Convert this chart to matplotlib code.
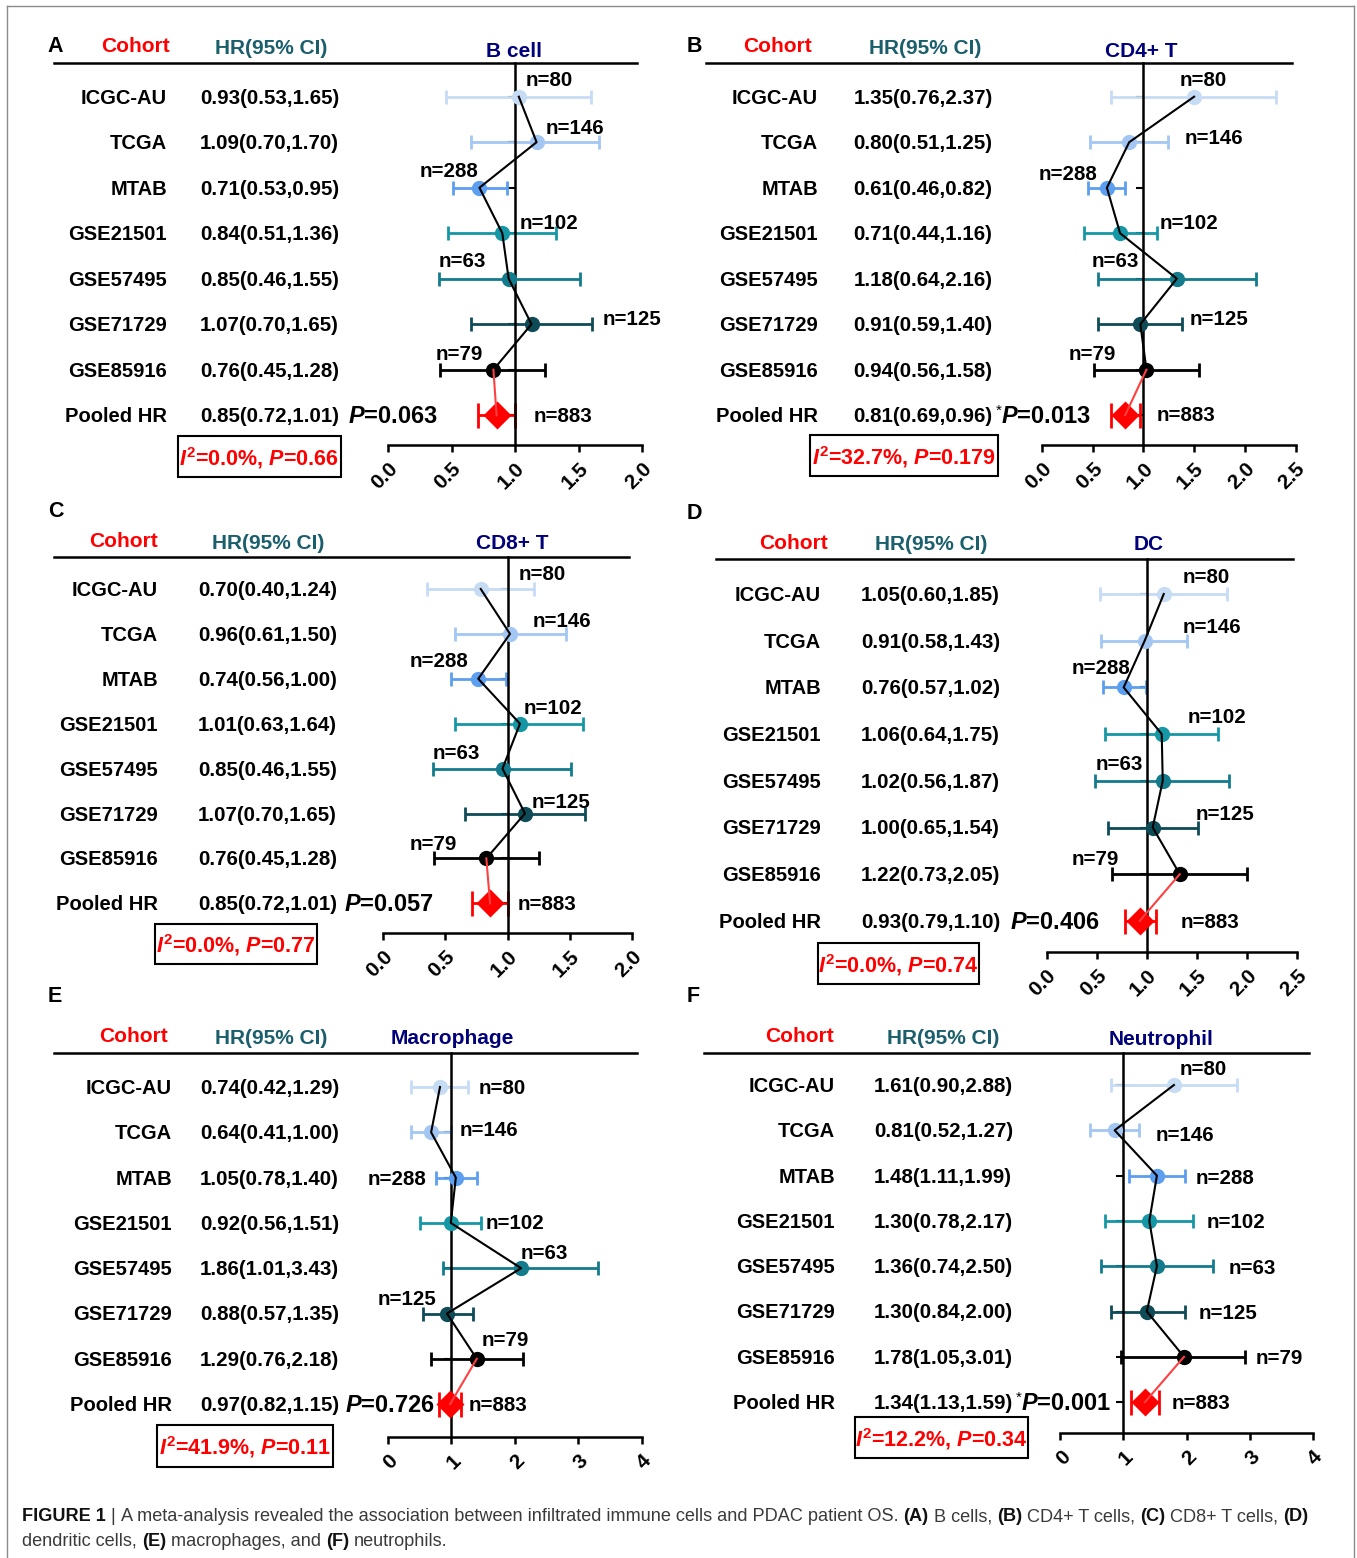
import matplotlib
matplotlib.use("Agg")
import matplotlib.pyplot as plt
import matplotlib.transforms as mtransforms
from matplotlib.lines import Line2D
from matplotlib.patches import Rectangle

W, H = 1357, 1558

plt.rcParams['font.family'] = ['Liberation Sans', 'DejaVu Sans']
plt.rcParams['mathtext.fontset'] = 'custom'
plt.rcParams['mathtext.it'] = 'Liberation Sans:italic:bold'
plt.rcParams['mathtext.rm'] = 'Liberation Sans:bold'
plt.rcParams['mathtext.bf'] = 'Liberation Sans:bold'

# ---------------- data ----------------
cohorts = ["ICGC-AU", "TCGA", "MTAB", "GSE21501", "GSE57495", "GSE71729", "GSE85916"]
sizes = [80, 146, 288, 102, 63, 125, 79]
pooled_n = 883
cohort_colors = ['#c6dcf5', '#a3c6f2', '#5c9ef0', '#1697a6', '#137b8b', '#0e4b57', '#000000']

# B cell
bcell_hr = ["0.93(0.53,1.65)", "1.09(0.70,1.70)", "0.71(0.53,0.95)", "0.84(0.51,1.36)",
            "0.85(0.46,1.55)", "1.07(0.70,1.65)", "0.76(0.45,1.28)", "0.85(0.72,1.01)"]
bcell_est = [1.03, 1.17, 0.72, 0.90, 0.95, 1.13, 0.83, 0.855]
bcell_lo = [0.46, 0.65, 0.51, 0.47, 0.40, 0.65, 0.41, 0.71]
bcell_hi = [1.60, 1.66, 0.94, 1.32, 1.51, 1.61, 1.24, 1.00]

# CD4+ T
cd4_hr = ["1.35(0.76,2.37)", "0.80(0.51,1.25)", "0.61(0.46,0.82)", "0.71(0.44,1.16)",
          "1.18(0.64,2.16)", "0.91(0.59,1.40)", "0.94(0.56,1.58)", "0.81(0.69,0.96)"]
cd4_est = [1.50, 0.86, 0.64, 0.77, 1.33, 0.97, 1.03, 0.82]
cd4_lo = [0.68, 0.47, 0.45, 0.41, 0.55, 0.55, 0.51, 0.68]
cd4_hi = [2.31, 1.24, 0.82, 1.13, 2.11, 1.38, 1.55, 0.97]

# CD8+ T
cd8_hr = ["0.70(0.40,1.24)", "0.96(0.61,1.50)", "0.74(0.56,1.00)", "1.01(0.63,1.64)",
          "0.85(0.46,1.55)", "1.07(0.70,1.65)", "0.76(0.45,1.28)", "0.85(0.72,1.01)"]
cd8_est = [0.785, 1.02, 0.765, 1.10, 0.96, 1.14, 0.83, 0.86]
cd8_lo = [0.35, 0.58, 0.55, 0.58, 0.40, 0.66, 0.41, 0.715]
cd8_hi = [1.21, 1.47, 0.99, 1.61, 1.51, 1.62, 1.25, 1.00]

# DC
dc_hr = ["1.05(0.60,1.85)", "0.91(0.58,1.43)", "0.76(0.57,1.02)", "1.06(0.64,1.75)",
         "1.02(0.56,1.87)", "1.00(0.65,1.54)", "1.22(0.73,2.05)", "0.93(0.79,1.10)"]
dc_est = [1.17, 0.98, 0.77, 1.15, 1.16, 1.06, 1.33, 0.93]
dc_lo = [0.53, 0.54, 0.56, 0.58, 0.48, 0.61, 0.65, 0.78]
dc_hi = [1.80, 1.40, 0.99, 1.71, 1.82, 1.51, 2.00, 1.09]

# Macrophage
mac_hr = ["0.74(0.42,1.29)", "0.64(0.41,1.00)", "1.05(0.78,1.40)", "0.92(0.56,1.51)",
          "1.86(1.01,3.43)", "0.88(0.57,1.35)", "1.29(0.76,2.18)", "0.97(0.82,1.15)"]
mac_est = [0.82, 0.68, 1.07, 0.99, 2.10, 0.93, 1.40, 0.98]
mac_lo = [0.37, 0.37, 0.76, 0.51, 0.87, 0.55, 0.68, 0.80]
mac_hi = [1.26, 1.00, 1.40, 1.47, 3.32, 1.34, 2.13, 1.15]

# Neutrophil
neu_hr = ["1.61(0.90,2.88)", "0.81(0.52,1.27)", "1.48(1.11,1.99)", "1.30(0.78,2.17)",
          "1.36(0.74,2.50)", "1.30(0.84,2.00)", "1.78(1.05,3.01)", "1.34(1.13,1.59)"]
neu_est = [1.80, 0.86, 1.53, 1.41, 1.53, 1.37, 1.96, 1.34]
neu_lo = [0.80, 0.47, 1.09, 0.71, 0.64, 0.80, 0.96, 1.12]
neu_hi = [2.80, 1.25, 1.98, 2.11, 2.42, 1.98, 2.93, 1.57]

titles = ["B cell", "CD4+ T", "CD8+ T", "DC", "Macrophage", "Neutrophil"]
letters = ["A", "B", "C", "D", "E", "F"]
pooled_p = ["0.063", "0.013", "0.057", "0.406", "0.726", "0.001"]
significant = [False, True, False, False, False, True]
i2_text = ["0.0%", "32.7%", "0.0%", "0.0%", "41.9%", "12.2%"]
i2_p = ["0.66", "0.179", "0.77", "0.74", "0.11", "0.34"]
xmax = [2.0, 2.5, 2.0, 2.5, 4, 4]
xticks_ab = [0.0, 0.5, 1.0, 1.5, 2.0, 2.5]
xticks_ef = [0, 1, 2, 3, 4]

# ---------------- layout (pixels) ----------------
layout = [
    dict(ax=(388, 63, 642, 445), r0=96.7, dr=45.5, head=(54, 637), lab=167, hr=200, p=347.5,
         letter=(55, 45), coh=(136, 45), hrh=(271, 47), tit=(514, 50), box=(177.5, 436, 341, 477),
         nlab=[(526, 79), (546, 127), (419.5, 170), (520, 222), (439, 260), (603, 318), (436, 353), (534, 415)]),
    dict(ax=(1042, 63, 1295.5, 445), r0=96.7, dr=45.5, head=(706, 1292), lab=818, hr=853.5, p=1001,
         letter=(694, 45), coh=(778, 45), hrh=(925, 47), tit=(1141, 50), box=(810, 435, 997.5, 476),
         nlab=[(1180, 79), (1185, 137), (1039, 173), (1160, 222), (1092, 260), (1190, 318), (1068.6, 353), (1157, 414)]),
    dict(ax=(383, 557, 632, 933), r0=589, dr=44.9, head=(54, 629), lab=158, hr=198, p=343.5,
         letter=(56, 510), coh=(124, 540), hrh=(268, 542), tit=(512, 542), box=(154.6, 924, 316.7, 964),
         nlab=[(519, 573), (533, 620), (409.6, 660), (524, 707), (433, 752), (532, 800.7), (409.6, 843), (517.5, 903)]),
    dict(ax=(1046.5, 559, 1297, 952), r0=594, dr=46.7, head=(716, 1293), lab=821, hr=861, p=1010,
         letter=(694, 512), coh=(794, 542), hrh=(931, 543), tit=(1149, 543), box=(818, 943, 979, 984),
         nlab=[(1183, 576), (1183, 626), (1072, 667), (1188, 716), (1096, 763), (1196, 813), (1072, 858), (1181, 921)]),
    dict(ax=(388, 1053, 641.6, 1437), r0=1087, dr=45.3, head=(54, 637), lab=172, hr=200, p=345,
         letter=(55, 995), coh=(133, 1035), hrh=(271, 1037), tit=(452, 1037), box=(156.6, 1425, 332.5, 1467),
         nlab=[(478.7, 1087), (460, 1129), (368, 1178), (486, 1222), (521, 1252), (378, 1298), (482, 1339), (469, 1404)]),
    dict(ax=(1060.4, 1053, 1312.7, 1433), r0=1085, dr=45.3, head=(704, 1309), lab=835, hr=874, p=1021,
         letter=(693, 995), coh=(800, 1035), hrh=(943, 1037), tit=(1161, 1038), box=(854.7, 1417, 1028, 1458),
         nlab=[(1180, 1068), (1155.5, 1134), (1196, 1177), (1206.5, 1221), (1229, 1267), (1199, 1312), (1256, 1357), (1172, 1402)]),
]

panels = [
    (bcell_hr, bcell_est, bcell_lo, bcell_hi),
    (cd4_hr, cd4_est, cd4_lo, cd4_hi),
    (cd8_hr, cd8_est, cd8_lo, cd8_hi),
    (dc_hr, dc_est, dc_lo, dc_hi),
    (mac_hr, mac_est, mac_lo, mac_hi),
    (neu_hr, neu_est, neu_lo, neu_hi),
]

fig = plt.figure(figsize=(W / 100, H / 100), dpi=100)
DOWN = 1.5  # small downward nudge for text (px)


def fx(x):
    return x / W


def fy(y):
    return 1 - y / H


def ftext(x, y, s, **kw):
    return fig.text(fx(x), fy(y + DOWN), s, **kw)


for k, (hrs, est, lo, hi) in enumerate(panels):
    L = layout[k]
    x0, y0, x1, y1 = L['ax']
    ax = fig.add_axes([fx(x0), fy(y1), (x1 - x0) / W, (y1 - y0) / H])
    ax.patch.set_alpha(0)
    ax.set_xlim(0, xmax[k])
    ax.set_ylim((y1 - L['r0']) / L['dr'], -(L['r0'] - y0) / L['dr'])
    rows = list(range(8))
    nudge = DOWN / L['dr']

    for i in range(7):
        ax.errorbar(est[i], rows[i], xerr=[[est[i] - lo[i]], [hi[i] - est[i]]], fmt='none',
                    ecolor=cohort_colors[i], elinewidth=2, capsize=4.7, capthick=2, zorder=3,
                    clip_on=False)
        ax.plot(est[i], rows[i], 'o', ms=11, color=cohort_colors[i], mec='none', zorder=4,
                clip_on=False)
    ax.plot(est[:7], rows[:7], color='black', lw=1.5, zorder=5, clip_on=False)
    # pooled estimate
    ax.errorbar(est[7], rows[7], xerr=[[est[7] - lo[7]], [hi[7] - est[7]]], fmt='none',
                ecolor='#ff0000', elinewidth=2, capsize=9, capthick=2, zorder=3, clip_on=False)
    ax.plot(est[7], rows[7], 'D', ms=14.5, color='#ff0000', mec='none', zorder=4, clip_on=False)
    ax.plot([est[6], est[7]], [rows[6], rows[7]], color='#ff4040', lw=1.5, zorder=5, clip_on=False)

    ax.spines['top'].set_visible(False)
    ax.spines['right'].set_visible(False)
    ax.spines['left'].set_position(('data', 1))
    ax.spines['left'].set_zorder(3.5)
    ax.spines['left'].set_linewidth(1.8)
    ax.spines['bottom'].set_linewidth(1.8)
    ax.set_yticks(rows)
    ax.set_yticklabels([])
    ax.tick_params(axis='y', direction='out', length=5, width=1.5)
    if xmax[k] == 4:
        ticks = xticks_ef
        tlabels = [str(t) for t in ticks]
    else:
        ticks = [t for t in xticks_ab if t <= xmax[k]]
        tlabels = ["%.1f" % t for t in ticks]
    ax.set_xticks(ticks)
    ax.set_xticklabels(tlabels, rotation=45, ha='right', va='top', rotation_mode='anchor',
                       fontsize=15, fontweight='bold')
    ax.tick_params(axis='x', direction='out', length=5, width=1.8, pad=5)

    trans = mtransforms.blended_transform_factory(fig.transFigure, ax.transData)
    for i in range(7):
        ax.text(fx(L['lab']), rows[i] + nudge, cohorts[i], transform=trans, ha='right',
                va='center', fontsize=14.5, fontweight='bold')
        ax.text(fx(L['hr']), rows[i] + nudge, hrs[i], transform=trans, ha='left', va='center',
                fontsize=14.8, fontweight='bold')
    ax.text(fx(L['lab']), rows[7] + nudge, "Pooled HR", transform=trans, ha='right',
            va='center', fontsize=14.5, fontweight='bold')
    ax.text(fx(L['hr']), rows[7] + nudge, hrs[7], transform=trans, ha='left', va='center',
            fontsize=14.8, fontweight='bold')
    if significant[k]:
        ax.text(fx(L['p'] - 5.5), rows[7] - 0.1, "*", transform=trans, ha='left', va='center',
                fontsize=11)
    ax.text(fx(L['p']), rows[7] + nudge, r"$\mathit{P}$=" + pooled_p[k], transform=trans,
            ha='left', va='center', fontsize=17, fontweight='bold')

    # sample size labels
    for i, (nx, ny) in enumerate(L['nlab']):
        n = sizes[i] if i < 7 else pooled_n
        ftext(nx, ny, "n=%d" % n, ha='left', va='center', fontsize=14.8, fontweight='bold')

    # header
    ftext(*L['letter'], letters[k], ha='center', va='center', fontsize=15.5, fontweight='bold')
    ftext(*L['coh'], "Cohort", ha='center', va='center', fontsize=15, fontweight='bold', color='#ff0000')
    ftext(*L['hrh'], "HR(95% CI)", ha='center', va='center', fontsize=15, fontweight='bold', color='#1b5f6c')
    ftext(*L['tit'], titles[k], ha='center', va='center', fontsize=15, fontweight='bold', color='#00007a')
    hx0, hx1 = L['head']
    fig.add_artist(Line2D([fx(hx0), fx(hx1)], [fy(y0), fy(y0)], transform=fig.transFigure,
                          color='black', lw=1.8))

    # heterogeneity box
    bx0, by0, bx1, by1 = L['box']
    fig.add_artist(Rectangle((fx(bx0), fy(by1)), (bx1 - bx0) / W, (by1 - by0) / H,
                             transform=fig.transFigure, facecolor='white', edgecolor='black', lw=1.5))
    ftext((bx0 + bx1) / 2, (by0 + by1) / 2,
          r"$\mathit{I}^{2}$=" + i2_text[k] + r", $\mathit{P}$=" + i2_p[k],
          ha='center', va='center', fontsize=15.5, fontweight='bold', color='#ff0000')

# outer frame
for xs, ys in [((7, 7), (6, H + 5)), ((7, 1354), (6, 6)), ((1354, 1354), (6, H + 5))]:
    fig.add_artist(Line2D([fx(v) for v in xs], [fy(v) for v in ys], transform=fig.transFigure,
                          color='#8a8a8a', lw=1.0))

# caption
renderer = fig.canvas.get_renderer()
cap_color = '#3a3a3a'
line1 = [("FIGURE 1", 'bold'), ("|", 'normal'),
         ("A meta-analysis revealed the association between infiltrated immune cells and PDAC patient OS.", 'normal'),
         ("(A)", 'bold'), ("B cells,", 'normal'), ("(B)", 'bold'), ("CD4+ T cells,", 'normal'),
         ("(C)", 'bold'), ("CD8+ T cells,", 'normal'), ("(D)", 'bold')]
line2 = [("dendritic cells,", 'normal'), ("(E)", 'bold'), ("macrophages, and", 'normal'),
         ("(F)", 'bold'), ("neutrophils.", 'normal')]


def runs_width(runs, size):
    total = 0
    for s, w in runs:
        t = fig.text(0, 0, s, fontsize=size, fontweight=w)
        total += t.get_window_extent(renderer=renderer).width
        t.remove()
    return total + (len(runs) - 1) * 0.28 * size * 100 / 72


cap_size = 12.5
cap_size = cap_size * 1288 / runs_width(line1, cap_size)


def write_runs(x, y, runs, size):
    gap = 0.28 * size * 100 / 72
    for s, w in runs:
        t = ftext(x, y, s, fontsize=size, fontweight=w, ha='left', va='center',
                  color='#111111' if w == 'bold' else cap_color)
        x += t.get_window_extent(renderer=renderer).width + gap


write_runs(22, 1515, line1, cap_size)
write_runs(22, 1540, line2, cap_size)

fig.savefig("out.png", dpi=100)
